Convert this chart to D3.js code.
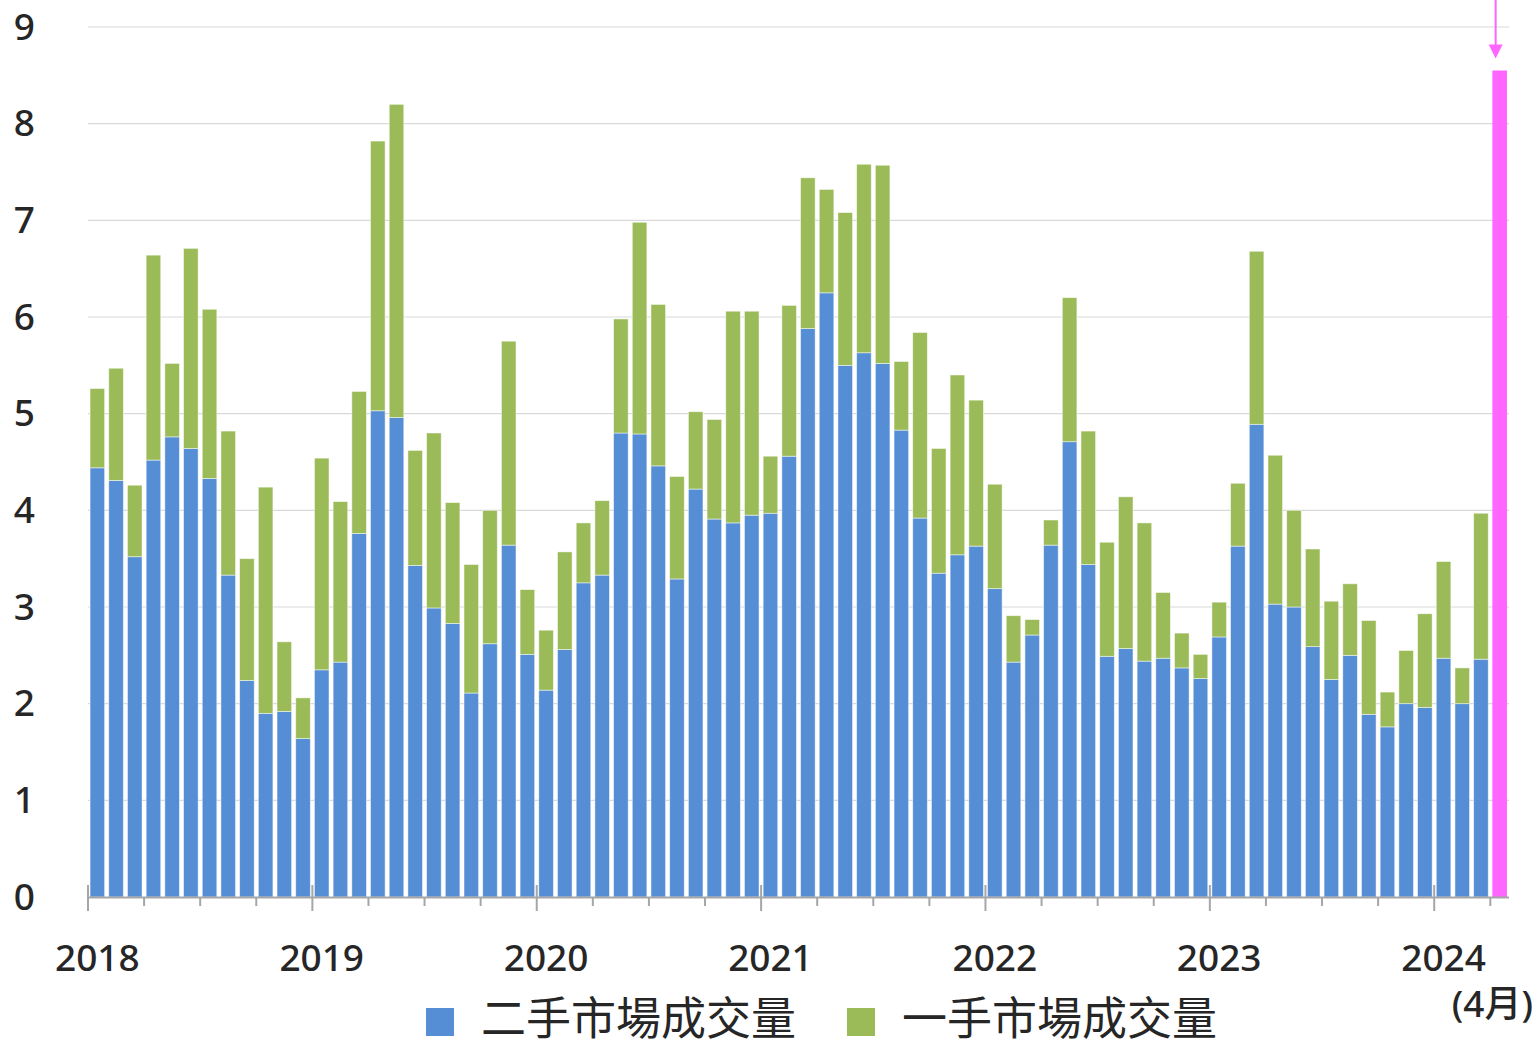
<!DOCTYPE html>
<html>
<head>
<meta charset="utf-8">
<script src="https://cdn.jsdelivr.net/npm/d3@7"></script>
<style>
  html, body { margin: 0; padding: 0; background: #fff; }
  svg text { font-family: "Noto Sans", "Noto Sans CJK TC", sans-serif; fill: #262626; }
</style>
</head>
<body>
<svg id="chart"></svg>
<script>
// monthly volumes, Jan 2018 .. Mar 2024
var secondHand = [
  4.44, 4.31, 3.52, 4.52, 4.76, 4.64, 4.33, 3.33, 2.24, 1.90, 1.92, 1.64,
  2.35, 2.43, 3.76, 5.03, 4.96, 3.43, 2.99, 2.83, 2.11, 2.62, 3.64, 2.51,
  2.14, 2.56, 3.25, 3.33, 4.80, 4.79, 4.46, 3.29, 4.22, 3.91, 3.87, 3.95,
  3.97, 4.56, 5.88, 6.25, 5.50, 5.63, 5.52, 4.83, 3.92, 3.35, 3.54, 3.63,
  3.19, 2.43, 2.71, 3.64, 4.71, 3.44, 2.49, 2.57, 2.44, 2.47, 2.37, 2.26,
  2.69, 3.63, 4.89, 3.03, 3.00, 2.59, 2.25, 2.50, 1.89, 1.76, 2.00, 1.96,
  2.47, 2.00, 2.46
];
var firstHand = [
  0.82, 1.16, 0.74, 2.12, 0.76, 2.07, 1.75, 1.49, 1.26, 2.34, 0.72, 0.42,
  2.19, 1.66, 1.47, 2.79, 3.24, 1.19, 1.81, 1.25, 1.33, 1.38, 2.11, 0.67,
  0.62, 1.01, 0.62, 0.77, 1.18, 2.19, 1.67, 1.06, 0.80, 1.03, 2.19, 2.11,
  0.59, 1.56, 1.56, 1.07, 1.58, 1.95, 2.05, 0.71, 1.92, 1.29, 1.86, 1.51,
  1.08, 0.48, 0.16, 0.26, 1.49, 1.38, 1.18, 1.57, 1.43, 0.68, 0.36, 0.25,
  0.36, 0.65, 1.79, 1.54, 1.00, 1.01, 0.81, 0.74, 0.97, 0.36, 0.55, 0.97,
  1.00, 0.37, 1.51
];
// April 2024 highlighted bar
var aprilMonth = "2024-04";
var aprilValue = 8.55;

var yearLabels = ["2018", "2019", "2020", "2021", "2022", "2023", "2024"];
var yTicks = [0, 1, 2, 3, 4, 5, 6, 7, 8, 9];
var seriesNames = ["二手市場成交量", "一手市場成交量"];
var colors = ["#558ed5", "#9bbb59"];

var months = d3.timeMonth.range(new Date(2018, 0, 1), new Date(2024, 4, 1))
  .map(d3.timeFormat("%Y-%m"));

var W = 1536, H = 1042;
var plotLeft = 88, plotRight = 1509, plotTop = 27, base = 897;

var svg = d3.select("#chart").attr("width", W).attr("height", H);

var x = d3.scaleBand().domain(months).range([plotLeft, plotRight])
  .paddingInner(0.22).paddingOuter(0.11);
var y = d3.scaleLinear().domain([0, 9]).range([base, plotTop]);

// gridlines
svg.append("g").selectAll("line").data(yTicks.slice(1)).join("line")
  .attr("x1", plotLeft).attr("x2", plotRight)
  .attr("y1", d => y(d)).attr("y2", d => y(d))
  .attr("stroke", "#d9d9d9").attr("stroke-width", 1.2);

// y labels
svg.append("g").selectAll("text").data(yTicks).join("text")
  .attr("x", 35).attr("y", d => y(d) - 2)
  .attr("text-anchor", "end").attr("dominant-baseline", "central")
  .style("font-size", "37px").style("font-weight", 500)
  .text(d => d);

// stacked bars
var rows = months.slice(0, secondHand.length).map((m, i) => ({
  month: m, second: secondHand[i], first: firstHand[i]
}));
var stacked = d3.stack().keys(["second", "first"])(rows);

svg.append("g").selectAll("g").data(stacked).join("g")
  .attr("fill", (d, i) => colors[i])
  .selectAll("rect").data(d => d).join("rect")
  .attr("x", d => x(d.data.month))
  .attr("y", d => y(d[1]))
  .attr("width", x.bandwidth())
  .attr("height", d => y(d[0]) - y(d[1]))
  .attr("stroke", "#ffffff").attr("stroke-opacity", 0.6).attr("stroke-width", 0.8);

// highlighted April bar
svg.append("rect")
  .attr("x", x(aprilMonth)).attr("y", y(aprilValue))
  .attr("width", x.bandwidth()).attr("height", base - y(aprilValue))
  .attr("fill", "#ff66ff");

// arrow above it
var ax = x(aprilMonth) + x.bandwidth() / 2 - 4;
var tip = y(aprilValue) - 12;
svg.append("line")
  .attr("x1", ax).attr("x2", ax).attr("y1", 0).attr("y2", tip - 12)
  .attr("stroke", "#ff66ff").attr("stroke-width", 2);
svg.append("path")
  .attr("d", `M${ax - 7},${tip - 14} L${ax + 7},${tip - 14} L${ax},${tip} Z`)
  .attr("fill", "#ff66ff");

// x axis line and ticks
svg.append("line")
  .attr("x1", plotLeft).attr("x2", plotRight).attr("y1", base + 0.5).attr("y2", base + 0.5)
  .attr("stroke", "#a6a6a6").attr("stroke-width", 2);

var gap = (x.step() - x.bandwidth()) / 2;
var tickMonths = months.filter((m, i) => i % 3 === 0);
svg.append("g").selectAll("line").data(tickMonths).join("line")
  .attr("x1", d => x(d) - gap).attr("x2", d => x(d) - gap)
  .attr("y1", d => d.endsWith("-01") ? base - 12 : base)
  .attr("y2", d => d.endsWith("-01") ? base + 14 : base + 9)
  .attr("stroke", "#a6a6a6").attr("stroke-width", 2);

// year labels
svg.append("g").selectAll("text").data(yearLabels).join("text")
  .attr("x", d => x(d + "-01") + x.bandwidth() / 2)
  .attr("y", 971)
  .attr("text-anchor", "middle")
  .style("font-size", "37px").style("font-weight", 500)
  .text(d => d);

svg.append("text")
  .attr("x", 1533).attr("y", 1017)
  .attr("text-anchor", "end")
  .style("font-size", "37px").style("font-weight", 500)
  .text("(4月)");

// legend
var legendX = [426, 847];
var lg = svg.append("g").selectAll("g").data(seriesNames).join("g")
  .attr("transform", (d, i) => `translate(${legendX[i]}, 1008)`);
lg.append("rect").attr("width", 28).attr("height", 28)
  .attr("fill", (d, i) => colors[i]);
lg.append("text").attr("x", 55).attr("y", 9)
  .attr("dominant-baseline", "central")
  .style("font-size", "45px")
  .text(d => d);
</script>
</body>
</html>
